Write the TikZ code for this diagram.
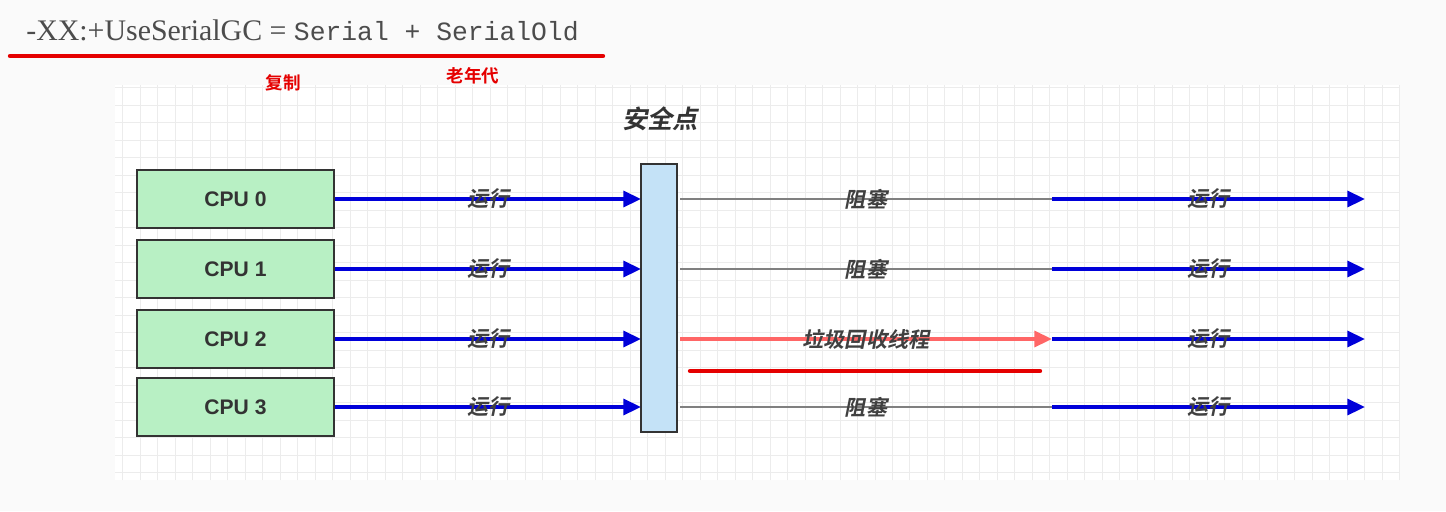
\documentclass[tikz,border=0pt]{standalone}
\usepackage{fontspec}
\newfontfamily\cjk{Noto Sans CJK SC}[BoldFont={* Bold}]
\newfontfamily\cjkit{Noto Sans CJK SC Bold}[FakeSlant=0.2]
\setmainfont{Liberation Serif}
\setmonofont{Liberation Mono}
\setsansfont{Liberation Sans}
\usetikzlibrary{arrows.meta}
\definecolor{barblue}{HTML}{C4E2F7}
\definecolor{cpugreen}{HTML}{B8F0C4}
\begin{document}
\begin{tikzpicture}[x=0.02cm,y=-0.02cm,
  cpu/.style={draw=black!80,line width=1.4pt,fill=cpugreen,minimum width=3.94cm,minimum height=1.16cm,font=\sffamily\bfseries\large,text=black!80},
  run/.style={draw=blue!85!black,line width=2pt,-{Triangle[length=10pt,width=9pt]}},
  blk/.style={draw=gray,line width=1.4pt},
  lab/.style={font=\cjkit\large,text=black!75,inner sep=1pt}]
\useasboundingbox (0,0) rectangle (1446,511);
\fill[gray!4] (0,0) rectangle (1446,511);
\fill[white] (115,85) rectangle (1400,480);
\draw[gray!15,step=0.35cm] (115,85) grid (1400,480);
% header
\node[anchor=base west,inner sep=0,font=\fontsize{17}{20}\selectfont,text=black!70] (hdr) at (26,40) {-XX:+UseSerialGC = {\fontsize{15}{18}\selectfont\texttt{Serial + SerialOld}}};
\coordinate (u1) at (10,56); \coordinate (u2) at (603,56);
\draw[red!90!black,line width=2.5pt,line cap=round] (u1) -- (u2);
\node[font=\cjk\bfseries,text=red!90!black] (fz) at (283,83) {复制};
\node[font=\cjk\bfseries,text=red!90!black] (lnd) at (473,76) {老年代};
\node[text=black!80,font=\cjkit\Large] (aqd) at (660,119) {安全点};
% safepoint bar
\node[draw=black!80,line width=1.4pt,fill=barblue,minimum width=0.72cm,minimum height=5.36cm,inner sep=0] (bar) at (659,298) {};
\foreach \i/\y in {0/199,1/269,2/339,3/407}{
  \node[cpu] (c\i) at (235.5,\y) {CPU \i};
  \coordinate (bl\i) at (641,\y);
  \coordinate (br\i) at (680,\y);
  \coordinate (m\i) at (1052,\y);
  \coordinate (e\i) at (1365,\y);
  \draw[run] (c\i.east) -- (bl\i) node[lab,pos=0.5] {运行};
  \draw[run] (m\i) -- (e\i) node[lab,pos=0.5] {运行};
}
\foreach \i in {0,1,3}{\draw[blk] (br\i) -- (m\i) node[lab,pos=0.5] {阻塞};}
\draw[draw=red!60!white,line width=2pt,-{Triangle[length=10pt,width=9pt]}] (br2) -- (m2) node[lab,pos=0.5] {垃圾回收线程};
\coordinate (r1) at (690,371); \coordinate (r2) at (1040,371);
\draw[red!90!black,line width=2.5pt,line cap=round] (r1) -- (r2);
\end{tikzpicture}
\end{document}
